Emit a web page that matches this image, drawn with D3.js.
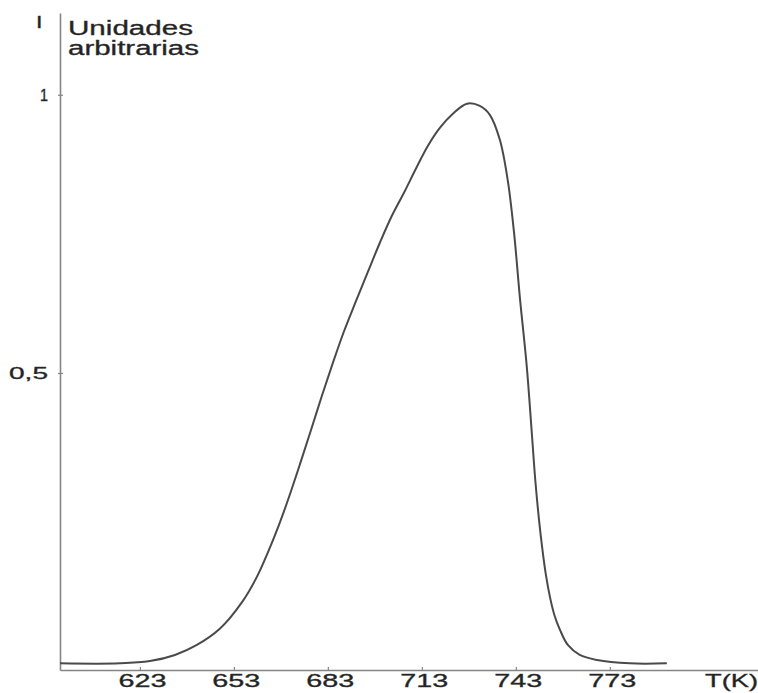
<!DOCTYPE html>
<html>
<head>
<meta charset="utf-8">
<script src="https://cdn.jsdelivr.net/npm/d3@7"></script>
<style>
  html, body { margin: 0; padding: 0; background: #fff; }
  svg { display: block; }
  text { font-family: "Liberation Sans", Arial, sans-serif; fill: #222; stroke: #333; stroke-width: 0.35px; }
</style>
</head>
<body>
<svg id="chart" width="758" height="693"></svg>
<script>
// Glow curve: intensity (arbitrary units) versus temperature T (K)
const temperatures = [597.5, 616.6, 626.2, 634.2, 641.2, 648.5, 655.6, 660.3, 663.9, 667.4,
  670.6, 674.1, 677.6, 681.1, 684.6, 688.1, 691.9, 695.8, 699.6, 703.4,
  707.3, 711.1, 714.9, 718.8, 722.9, 727.4, 731.5, 734.7, 737.9, 740.4,
  742.4, 744.3, 746.5, 748.1, 749.2, 750.4, 751.5, 752.6, 753.9, 755.3,
  757.1, 759.6, 763.4, 768.9, 779.4, 791.2];
const intensity = [-0.022, -0.022, -0.018, -0.007, 0.011, 0.040, 0.088, 0.133, 0.178, 0.227,
  0.277, 0.336, 0.397, 0.459, 0.518, 0.574, 0.628, 0.682, 0.734, 0.782,
  0.824, 0.867, 0.908, 0.941, 0.966, 0.984, 0.980, 0.964, 0.919, 0.847,
  0.754, 0.635, 0.511, 0.392, 0.308, 0.236, 0.182, 0.137, 0.097, 0.065,
  0.038, 0.011, -0.007, -0.016, -0.022, -0.022];

const xTicks = [623, 653, 683, 713, 743, 773];
const yTicks = [0.5, 1];
const yTickLabels = ["0,5", "1"];
const xAxisTitle = "T(K)";
const yAxisSymbol = "I";
const yAxisTitle = ["Unidades", "arbitrarias"];

const svg = d3.select("#chart");

const x = d3.scaleLinear().domain([597.5, 820.3]).range([60, 758]);
const y = d3.scaleLinear().domain([-0.034, 1.147]).range([670, 13]);

const axisColor = "#858585";

// x axis with short upward ticks
const gx = svg.append("g")
  .attr("transform", "translate(0,670)")
  .call(d3.axisBottom(x).tickValues(xTicks).tickSizeInner(-3).tickSizeOuter(0).tickPadding(4));
gx.select(".domain").attr("stroke", axisColor).attr("stroke-width", 1.6);
gx.selectAll(".tick line").attr("stroke", axisColor).attr("stroke-width", 1.2);
gx.selectAll(".tick text")
  .attr("dy", null)
  .attr("x", 2)
  .attr("y", 17)
  .style("font-size", "19px")
  .style("font-family", "'Liberation Sans', Arial, sans-serif")
  .attr("fill", "#222")
  .attr("textLength", 48)
  .attr("lengthAdjust", "spacingAndGlyphs");

// y axis with small crossing ticks
const gy = svg.append("g")
  .attr("transform", "translate(60,0)")
  .call(d3.axisLeft(y).tickValues(yTicks).tickFormat((d, i) => yTickLabels[i])
    .tickSizeInner(3).tickSizeOuter(0).tickPadding(9));
gy.select(".domain").attr("stroke", axisColor).attr("stroke-width", 1.6);
gy.selectAll(".tick line").attr("stroke", axisColor).attr("stroke-width", 1.2).attr("x1", 3).attr("x2", -2);
gy.selectAll(".tick text")
  .style("font-size", "17px")
  .style("font-family", "'Liberation Sans', Arial, sans-serif")
  .attr("fill", "#222")
  .attr("dy", "0.35em")
  .each(function(d, i) {
    const w = yTickLabels[i].length === 1 ? 8 : 39;
    d3.select(this).attr("textLength", w).attr("lengthAdjust", "spacingAndGlyphs");
  });

// axis titles
svg.append("text")
  .attr("x", 705).attr("y", 687)
  .style("font-size", "19px")
  .attr("textLength", 53).attr("lengthAdjust", "spacingAndGlyphs")
  .text(xAxisTitle);

svg.append("text")
  .attr("x", 37).attr("y", 28)
  .style("font-size", "16px").style("font-weight", "bold")
  .text(yAxisSymbol);

svg.append("text")
  .attr("x", 68).attr("y", 35)
  .style("font-size", "20px")
  .attr("textLength", 125).attr("lengthAdjust", "spacingAndGlyphs")
  .text(yAxisTitle[0]);

svg.append("text")
  .attr("x", 68).attr("y", 55)
  .style("font-size", "20px")
  .attr("textLength", 131).attr("lengthAdjust", "spacingAndGlyphs")
  .text(yAxisTitle[1]);

// glow curve
const line = d3.line()
  .x((d, i) => x(temperatures[i]))
  .y(d => y(d))
  .curve(d3.curveCatmullRom.alpha(0.5));

svg.append("path")
  .datum(intensity)
  .attr("fill", "none")
  .attr("stroke", "#4a4a4a")
  .attr("stroke-width", 2)
  .attr("stroke-linejoin", "round")
  .attr("d", line);
</script>
</body>
</html>
